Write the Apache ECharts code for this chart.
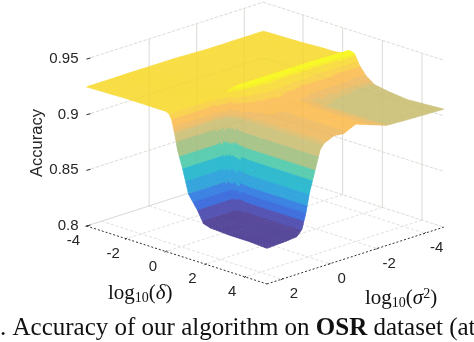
<!DOCTYPE html>
<html>
<head>
<meta charset="utf-8">
<style>
html,body{margin:0;padding:0;background:#fff;overflow:hidden}
#chart{width:474px;height:342px}
</style>
<script src="https://cdn.jsdelivr.net/npm/echarts@6/dist/echarts.min.js"></script>
</head>
<body>
<div id="chart"></div>
<script>
var deltaTicks = [-4, -2, 0, 2, 4];
var sigmaTicks = [2, 0, -2, -4];
var zTicks = [0.8, 0.85, 0.9, 0.95];
var zTickLabels = ['0.8', '0.85', '0.9', '0.95'];

// sample positions
var deltas = [-4, -2, -1, -0.5, 0, 0.15, 0.3, 0.45, 0.6, 0.85, 1.15, 1.6, 1.9, 2.25, 3.25, 4.2, 5.1];
var sigmas = [-4.8, -3.4, -2.4, -1.1, -0.6, -0.2, 0.23, 0.4, 0.61, 0.83, 1.0, 1.16, 1.37, 1.8, 2.63];
// accuracy, one row per sigma, one column per delta
var accuracy = [
  [.924,.925,.926,.926,.927,.929,.931,.931,.930,.921,.914,.908,.907,.906,.904,.905,.906],
  [.924,.925,.926,.926,.928,.930,.931,.930,.928,.922,.915,.909,.908,.907,.906,.906,.907],
  [.924,.925,.926,.926,.928,.930,.931,.930,.928,.923,.915,.909,.909,.908,.908,.908,.908],
  [.925,.926,.926,.926,.928,.930,.931,.930,.929,.925,.921,.918,.918,.918,.918,.918,.918],
  [.925,.926,.926,.926,.928,.930,.931,.930,.928,.924,.919,.915,.914,.913,.913,.913,.913],
  [.925,.926,.926,.926,.928,.930,.930,.929,.927,.922,.917,.915,.914,.914,.914,.914,.914],
  [.925,.926,.926,.926,.927,.928,.929,.927,.923,.917,.912,.910,.910,.910,.910,.910,.910],
  [.925,.926,.926,.926,.927,.927,.926,.920,.910,.906,.905,.905,.905,.905,.905,.905,.905],
  [.925,.926,.926,.926,.926,.926,.924,.918,.906,.893,.889,.888,.888,.888,.888,.888,.888],
  [.925,.926,.926,.926,.926,.925,.921,.910,.896,.882,.874,.872,.871,.871,.871,.871,.871],
  [.925,.926,.926,.926,.926,.925,.920,.908,.894,.879,.862,.854,.853,.852,.852,.852,.852],
  [.925,.926,.926,.926,.926,.925,.920,.908,.894,.879,.858,.846,.840,.839,.839,.839,.839],
  [.925,.926,.926,.926,.926,.925,.920,.908,.894,.879,.858,.846,.836,.835,.834,.834,.834],
  [.925,.926,.926,.926,.926,.925,.920,.908,.894,.879,.858,.846,.836,.834,.833,.833,.833],
  [.925,.926,.926,.926,.926,.925,.920,.908,.894,.879,.858,.846,.836,.834,.833,.833,.832]
];
// upper edge of each colour band seen on the surface
var bandEdges = [.838, .846, .852, .858, .868, .879, .889, .900, .9085, .9105, .914, .920, .924, .9285, .9298, 1];
var bandColors = ['#56479a', '#5553b2', '#3f6fdc', '#3b82e2', '#33a5dc', '#2fbad0', '#5bcdb0', '#a9c48a', '#cfc47f', '#e0c276', '#efbf6c', '#fbc25f', '#f9d250', '#f8dd44', '#f8ee30', '#f8f82a'];

var deltaMin = -4, deltaMax = 5.1, sigmaMin = -4.8, sigmaMax = 2.63, zMin = 0.8, zMax = 0.95;

// oblique view, in page pixels
function project(d, s, z) {
  return [
    86.5 + (d - deltaMin) * 19.83 + (sigmaMax - s) * 23.8,
    226 + (d - deltaMin) * 6.37 - (sigmaMax - s) * 7.65 - (z - zMin) * 1113
  ];
}

function colorOf(z) {
  for (var i = 0; i < bandEdges.length; i++) {
    if (z <= bandEdges[i]) return bandColors[i];
  }
  return bandColors[bandColors.length - 1];
}

var cells = [];
for (var r = 0; r < sigmas.length - 1; r++) {
  for (var c = 0; c < deltas.length - 1; c++) cells.push([r, c]);
}

// same idea as shading interp: each cell is cut in smaller flat pieces
var SUB = 6;
function renderCell(params, api) {
  var r = api.value(0), c = api.value(1);
  var z00 = accuracy[r][c], z01 = accuracy[r][c + 1], z10 = accuracy[r + 1][c], z11 = accuracy[r + 1][c + 1];
  var children = [];
  function height(u, v) {
    return z00 * (1 - u) * (1 - v) + z01 * (1 - u) * v + z10 * u * (1 - v) + z11 * u * v;
  }
  function at(u, v) {
    var d = deltas[c] + (deltas[c + 1] - deltas[c]) * v;
    var s = sigmas[r] + (sigmas[r + 1] - sigmas[r]) * u;
    return api.coord(project(d, s, height(u, v)));
  }
  for (var i = 0; i < SUB; i++) {
    for (var j = 0; j < SUB; j++) {
      var u0 = i / SUB, u1 = (i + 1) / SUB, v0 = j / SUB, v1 = (j + 1) / SUB;
      var col = colorOf(height((u0 + u1) / 2, (v0 + v1) / 2));
      children.push({
        type: 'polygon',
        shape: { points: [at(u0, v0), at(u0, v1), at(u1, v1), at(u1, v0)] },
        style: { fill: col, stroke: col, lineWidth: 0.7 }
      });
    }
  }
  return { type: 'group', children: children };
}

// grid lines on the two back walls and the floor: [d0,s0,z0,d1,s1,z1,kind]
var gridLines = [];
deltaTicks.forEach(function (d) {
  if (d !== deltaMin) gridLines.push([d, sigmaMin, zMin, d, sigmaMin, zMax, 'wall']);
  gridLines.push([d, sigmaMin, zMin, d, sigmaMax, zMin, 'floor']);
});
sigmaTicks.forEach(function (s) {
  if (s !== 2) gridLines.push([deltaMin, s, zMin, deltaMin, s, zMax, 'wall']);
  gridLines.push([deltaMin, s, zMin, deltaMax, s, zMin, 'floor']);
});
zTicks.forEach(function (z) {
  gridLines.push([deltaMin, sigmaMax, z, deltaMin, sigmaMin, z, 'level']);
  gridLines.push([deltaMin, sigmaMin, z, deltaMax, sigmaMin, z, 'level']);
});
gridLines.push([deltaMin, sigmaMax, zMin, deltaMax, sigmaMax, zMin, 'edge']);
gridLines.push([deltaMax, sigmaMax, zMin, deltaMax, sigmaMin, zMin, 'edge']);

function lineShape(l, api) {
  var a = api.coord(project(l[0], l[1], l[2])), b = api.coord(project(l[3], l[4], l[5]));
  return { x1: a[0], y1: a[1], x2: b[0], y2: b[1] };
}
function renderLine(params, api) {
  var l = gridLines[api.value(0)];
  var style = { stroke: '#e0e0e0', lineWidth: 1, lineDash: [3, 2] };
  if (l[6] === 'wall') style = { stroke: '#e0e0e0', lineWidth: 1 };
  if (l[6] === 'edge') style = { stroke: '#333', lineWidth: 1, lineDash: [2, 2] };
  return { type: 'line', shape: lineShape(l, api), style: style };
}
// the surface is a bit see-through, the walls show faintly across it
var faintLines = gridLines.filter(function (l) { return l[6] === 'wall' || l[6] === 'level'; });
function renderFaint(params, api) {
  return { type: 'line', shape: lineShape(faintLines[api.value(0)], api), style: { stroke: '#a08040', lineWidth: 1, opacity: 0.06 } };
}

// tick labels and their small marks
var labels = [];
zTicks.forEach(function (z, i) { labels.push({ p: [deltaMin, sigmaMax, z], dx: -8, dy: 0, text: zTickLabels[i], align: 'right' }); });
deltaTicks.forEach(function (d) { labels.push({ p: [d, sigmaMax, zMin], dx: -13, dy: 15, text: String(d), align: 'center' }); });
sigmaTicks.forEach(function (s) { labels.push({ p: [deltaMax, s, zMin], dx: 12, dy: 15, text: String(s), align: 'center' }); });

function renderLabel(params, api) {
  var l = labels[api.value(0)];
  var a = api.coord(project(l.p[0], l.p[1], l.p[2]));
  return {
    type: 'text',
    x: a[0] + l.dx, y: a[1] + l.dy,
    style: { text: l.text, fill: '#262626', font: '15px "Liberation Sans"', align: l.align, verticalAlign: 'middle' }
  };
}
function renderTick(params, api) {
  var l = labels[api.value(0)];
  var a = api.coord(project(l.p[0], l.p[1], l.p[2]));
  var isZ = l.align === 'right';
  return {
    type: 'line',
    shape: { x1: a[0] + (isZ ? 0 : -1), y1: a[1] + (isZ ? 0 : 1), x2: a[0] + (isZ ? 4 : 1), y2: a[1] + (isZ ? -1 : -1) },
    style: { stroke: '#333', lineWidth: 1 }
  };
}

function range(n) { var a = []; for (var i = 0; i < n; i++) a.push([i]); return a; }

var mathRich = {
  m: { font: '21px "Liberation Serif"', fill: '#111' },
  i: { font: 'italic 21px "Liberation Serif"', fill: '#111' },
  sub: { font: '14px "Liberation Serif"', fill: '#111', verticalAlign: 'bottom', padding: [9, 0, 0, 0] },
  sup: { font: '14px "Liberation Serif"', fill: '#111', verticalAlign: 'top', padding: [0, 0, 9, 0] }
};

var chart = echarts.init(document.getElementById('chart'));
chart.setOption({
  animation: false,
  backgroundColor: '#fff',
  grid: { left: 0, right: 0, top: 0, bottom: 0 },
  xAxis: { type: 'value', min: 0, max: 474, show: false },
  yAxis: { type: 'value', min: 0, max: 342, inverse: true, show: false },
  graphic: [
    { type: 'text', x: 37, y: 143, rotation: Math.PI / 2, originX: 0, originY: 0,
      style: { text: 'Accuracy', font: '16.5px "Liberation Sans"', fill: '#262626', align: 'center', verticalAlign: 'middle' } },
    { type: 'text', x: 108, y: 282,
      style: { text: '{m|log}{sub|10}{m|(}{i|δ}{m|)}', rich: mathRich } },
    { type: 'text', x: 365, y: 287,
      style: { text: '{m|log}{sub|10}{m|(}{i|σ}{sup|2}{m|)}', rich: mathRich } },
    { type: 'text', x: 0, y: 316,
      style: { text: '{n|. Accuracy of our algorithm on }{b|OSR}{n| dataset (at}',
        rich: { n: { font: '25px "Liberation Serif"', fill: '#111' }, b: { font: 'bold 25px "Liberation Serif"', fill: '#111' } } } }
  ],
  series: [
    { type: 'custom', name: 'grid', coordinateSystem: 'cartesian2d', data: range(gridLines.length), renderItem: renderLine, silent: true, z: 1 },
    { type: 'custom', name: 'ticks', coordinateSystem: 'cartesian2d', data: range(labels.length), renderItem: renderTick, silent: true, z: 2 },
    { type: 'custom', name: 'Accuracy', coordinateSystem: 'cartesian2d', data: cells, renderItem: renderCell, silent: true, z: 3 },
    { type: 'custom', name: 'faint', coordinateSystem: 'cartesian2d', data: range(faintLines.length), renderItem: renderFaint, silent: true, z: 4, clip: false },
    { type: 'custom', name: 'labels', coordinateSystem: 'cartesian2d', data: range(labels.length), renderItem: renderLabel, silent: true, z: 5 }
  ]
});
</script>
</body>
</html>
